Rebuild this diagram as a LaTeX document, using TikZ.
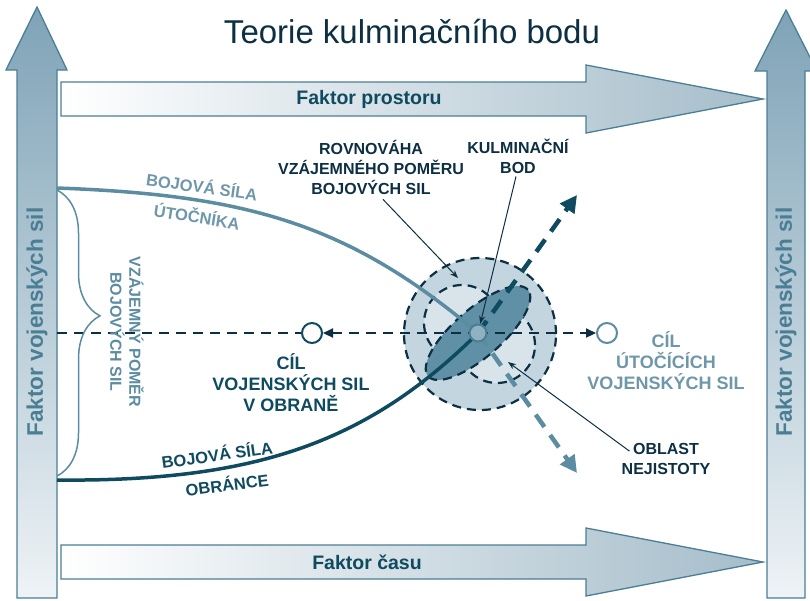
\documentclass[tikz,border=0pt]{standalone}
\usepackage{fontspec}
\setmainfont{Liberation Sans}
\usetikzlibrary{arrows.meta,decorations.pathreplacing}

\definecolor{navy}{HTML}{0C2F43}
\definecolor{tealD}{HTML}{0E4A60}
\definecolor{tealM}{HTML}{4A7E95}
\definecolor{steel}{HTML}{5B8CA1}
\definecolor{steelT}{HTML}{6E97AA}
\definecolor{armTop}{HTML}{7FA3B7}
\definecolor{armBot}{HTML}{EEF3F6}
\definecolor{armRight}{HTML}{A5BDCA}
\definecolor{zoneBig}{HTML}{C3D5DF}
\definecolor{zoneIn}{HTML}{D8E4EA}
\definecolor{zoneCore}{HTML}{6090A5}
\definecolor{dotFill}{HTML}{8FB1C1}

\tikzset{
	arm/.style={draw=tealM, line width=1.3pt},
	armtext/.style={font=\bfseries\fontsize{19.5}{22}\selectfont, text=tealD},
	sidetext/.style={rotate=90, font=\bfseries\fontsize{22.5}{24}\selectfont, text=tealM},
	lbl/.style={font=\bfseries\fontsize{16}{20}\selectfont, text=navy, align=center, inner sep=0},
	cil/.style={font=\bfseries\fontsize{18}{21}\selectfont, align=center, inner sep=0},
	crv/.style={font=\bfseries\fontsize{16.5}{20}\selectfont, inner sep=0},
	zone/.style={draw=navy, line width=2.2pt, dash pattern=on 9pt off 6pt},
	axisline/.style={navy, line width=2.2pt, dash pattern=on 10pt off 7pt},
	trend/.style={line width=4.5pt, dash pattern=on 15pt off 10pt, -{Triangle[length=17pt,width=17pt]}},
	target/.style={circle, line width=2pt, fill=white, minimum size=20pt, inner sep=0},
	pointer/.style={navy, line width=1pt, -{Stealth[length=8pt,width=6pt]}},
}

\begin{document}
\begin{tikzpicture}[x=1pt,y=1pt]

	\useasboundingbox (0,0) rectangle (810,-600);

	% factor arrows
	\shadedraw[arm, top color=armTop, bottom color=armBot]
		(17,-598) -- (17,-70) -- (6,-70) -- (37,-7) -- (67,-70) -- (57,-70) -- (57,-598) -- cycle;
	\shadedraw[arm, top color=armTop, bottom color=armBot]
		(767,-598) -- (767,-71) -- (755,-71) -- (786,-10) -- (817,-71) -- (805,-71) -- (805,-598) -- cycle;
	\shadedraw[arm, left color=white, right color=armRight]
		(61,-82) -- (586,-82) -- (586,-65) -- (763,-99) -- (586,-133) -- (586,-116) -- (61,-116) -- cycle;
	\shadedraw[arm, left color=white, right color=armRight]
		(61,-545) -- (586,-545) -- (586,-528) -- (763,-562) -- (586,-596) -- (586,-579) -- (61,-579) -- cycle;

	\node (title) [font=\fontsize{33}{36}\selectfont, text=navy] at (412,-32) {Teorie kulminačního bodu};
	\node (prostor) [armtext] at (369,-99) {Faktor prostoru};
	\node (cas) [armtext] at (367,-562) {Faktor času};
	\node (silL) [sidetext] at (37,-322) {Faktor vojenských sil};
	\node (silR) [sidetext] at (786,-322) {Faktor vojenských sil};

	% zone of the culminating point
	\fill[zoneBig] (480,-334) circle (76);
	\draw[zone] (480,-334) circle (76);
	\fill[zoneIn] (462,-323) circle (38);
	\fill[zoneIn] (497,-345) circle (38);
	\draw[zone] (462,-323) circle (38);
	\draw[zone] (497,-345) circle (38);
	\path[zone, fill=zoneCore, rotate around={41:(478,-333)}] (478,-333) ellipse (66 and 24);

	\coordinate (kb) at (478,-333);
	\coordinate (atk) at (57,-188);
	\coordinate (def) at (57,-480);
	\coordinate (axis) at (57,-333);
	\coordinate (up) at (577,-195);
	\coordinate (down) at (577,-473);
	\coordinate (inL) at (458,-278);
	\coordinate (inR) at (508,-362);

	\node (cilO) [target, draw=tealD] at (312,-333) {};
	\node (cilU) [target, draw=steel] at (607,-333) {};

	% combat power curves
	\draw[steel, line width=3.5pt] (atk) .. controls (250,-195) and (350,-225) .. (kb);
	\draw[tealD, line width=3.5pt] (def) .. controls (260,-482) and (370,-440) .. (kb);

	\draw[axisline] (axis) -- (cilO);
	\draw[axisline, -{Triangle[length=10pt,width=9pt]}] (kb) -- (cilO);
	\draw[axisline, -{Triangle[length=10pt,width=9pt]}] (kb) -- (cilU);

	\draw[trend, tealD] (kb) -- (up);
	\draw[trend, steel] (kb) -- (down);

	\node (kbDot) [circle, draw=tealM, line width=2pt, fill=dotFill, minimum size=17pt, inner sep=0] at (kb) {};

	\draw[steel, line width=1.5pt, decorate, decoration={brace, amplitude=43pt, aspect=0.44}]
		(57,-190) -- (57,-476);

	% labels
	\node (lblRovn) [lbl] at (371,-167) {ROVNOVÁHA\\VZÁJEMNÉHO POMĚRU\\BOJOVÝCH SIL};
	\node (lblKulm) [lbl] at (518,-156) {KULMINAČNÍ\\BOD};
	\node (lblObl) [lbl] at (666,-459) {OBLAST\\NEJISTOTY};
	\node (lblCilO) [cil, text=tealD] at (291,-383) {CÍL\\VOJENSKÝCH SIL\\V OBRANĚ};
	\node (lblCilU) [cil, text=steelT] at (666,-361) {CÍL\\ÚTOČÍCÍCH\\VOJENSKÝCH SIL};
	\node (pomer) [rotate=-90, font=\bfseries\fontsize{16}{19}\selectfont, text=steel, align=center, inner sep=0] at (127,-332) {VZÁJEMNÝ POMĚR\\BOJOVÝCH SIL};

	\node (atk1) [crv, text=steelT, rotate=-8] at (202,-186) {BOJOVÁ SÍLA};
	\node (atk2) [crv, text=steelT, rotate=-9] at (197,-216) {ÚTOČNÍKA};
	\node (def1) [crv, text=tealD, rotate=8] at (217,-454) {BOJOVÁ SÍLA};
	\node (def2) [crv, text=tealD, rotate=7] at (227,-484) {OBRÁNCE};

	\draw[pointer] ([xshift=12pt,yshift=-5pt]lblRovn.south) -- (inL);
	\draw[pointer] ([xshift=-2pt,yshift=-3pt]lblKulm.south) -- (kbDot);
	\draw[pointer] ([xshift=8pt,yshift=-8pt]lblObl.north west) -- (inR);

\end{tikzpicture}
\end{document}
